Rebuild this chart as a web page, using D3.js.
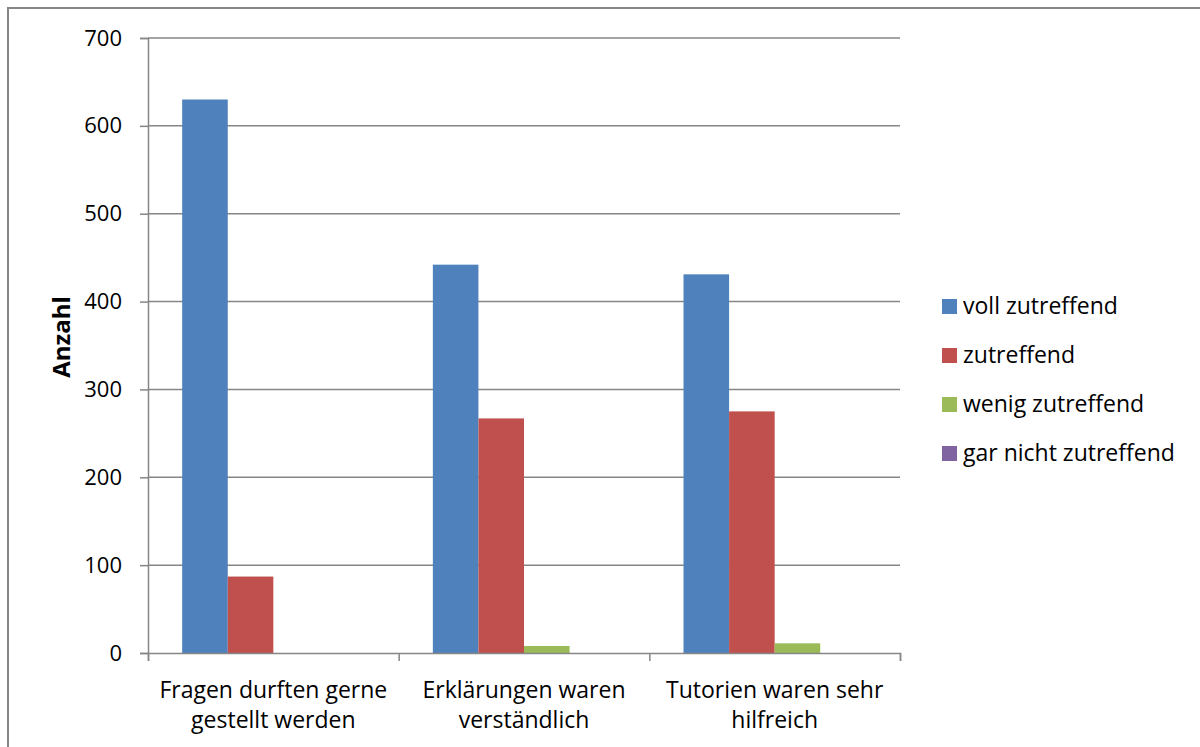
<!DOCTYPE html>
<html>
<head>
<meta charset="utf-8">
<script src="https://cdn.jsdelivr.net/npm/d3@7"></script>
<style>
  body { margin: 0; background: #fff; }
  svg text { font-family: "Open Sans", "Noto Sans", sans-serif; fill: #000; }
</style>
</head>
<body>
<div class="chart"></div>
<script>
// the data
const categories = [
  ['Fragen durften gerne', 'gestellt werden'],
  ['Erklärungen waren', 'verständlich'],
  ['Tutorien waren sehr', 'hilfreich']
];
const seriesNames = ['voll zutreffend', 'zutreffend', 'wenig zutreffend', 'gar nicht zutreffend'];
const seriesColors = ['#4f81bd', '#c0504d', '#9bbb59', '#8064a2'];
const vollZutreffend = [630, 442, 431];
const zutreffend = [87, 267, 275];
const wenigZutreffend = [0, 8, 11];
const garNichtZutreffend = [0, 0, 0];
const yTicks = [0, 100, 200, 300, 400, 500, 600, 700];

const values = [vollZutreffend, zutreffend, wenigZutreffend, garNichtZutreffend];

const width = 1200, height = 747;
const svg = d3.select('.chart').append('svg').attr('width', width).attr('height', height);

// outer frame
svg.append('rect')
  .attr('x', 8).attr('y', 8).attr('width', 1200).attr('height', 800)
  .attr('fill', 'none').attr('stroke', '#868686').attr('stroke-width', 2);

const plot = {left: 148, right: 900, top: 38, bottom: 653};

const x = d3.scaleBand().domain(d3.range(categories.length)).range([plot.left, plot.right]);
// excel gap width 150% -> 0.75 bar of space on each side of the 4 bars
const xInner = d3.scaleBand().domain(d3.range(seriesNames.length))
  .range([0, x.bandwidth()]).paddingOuter(0.75).paddingInner(0);
const y = d3.scaleLinear().domain([0, 700]).range([plot.bottom, plot.top]);

// gridlines
svg.append('g').selectAll('line').data(yTicks.slice(1)).join('line')
  .attr('x1', plot.left).attr('x2', plot.right)
  .attr('y1', d => y(d)).attr('y2', d => y(d))
  .attr('stroke', '#868686').attr('stroke-width', 1.5);

// bars
const groups = svg.append('g').selectAll('g').data(categories).join('g')
  .attr('transform', (d, i) => `translate(${x(i)},0)`);
groups.selectAll('rect')
  .data((d, i) => values.map((s, j) => ({s: j, v: s[i]})))
  .join('rect')
  .attr('x', d => xInner(d.s))
  .attr('width', xInner.bandwidth())
  .attr('y', d => y(d.v))
  .attr('height', d => y(0) - y(d.v))
  .attr('fill', d => seriesColors[d.s]);

// y axis
const yAxis = svg.append('g').attr('transform', `translate(${plot.left},0)`)
  .call(d3.axisLeft(y).tickValues(yTicks).tickSize(8).tickPadding(18));
yAxis.select('.domain').attr('stroke', '#868686').attr('stroke-width', 1.5);
yAxis.selectAll('.tick line').attr('stroke', '#868686').attr('stroke-width', 1.5);
yAxis.selectAll('.tick text').attr('font-size', 22).attr('font-family', '"Open Sans", sans-serif');

// x axis
const xAxis = svg.append('g').attr('transform', `translate(0,${plot.bottom})`)
  .call(d3.axisBottom(d3.scaleLinear().domain([0, 3]).range([plot.left, plot.right]))
    .tickValues([0, 1, 2, 3]).tickSize(8).tickFormat(''));
xAxis.select('.domain').attr('stroke', '#868686').attr('stroke-width', 1.5);
xAxis.selectAll('.tick line').attr('stroke', '#868686').attr('stroke-width', 1.5);

// category labels
const labels = svg.append('g').selectAll('text').data(categories).join('text')
  .attr('text-anchor', 'middle')
  .attr('font-size', 23)
  .attr('x', (d, i) => x(i) + x.bandwidth() / 2)
  .attr('y', 698);
labels.selectAll('tspan').data(d => d).join('tspan')
  .attr('x', function() { return d3.select(this.parentNode).attr('x'); })
  .attr('dy', (d, i) => i === 0 ? 0 : 30)
  .text(d => d);

// axis title
svg.append('text')
  .attr('transform', `translate(70,337) rotate(-90)`)
  .attr('text-anchor', 'middle')
  .attr('font-size', 24).attr('font-weight', 'bold')
  .text('Anzahl');

// legend
const legend = svg.append('g').selectAll('g').data(seriesNames).join('g')
  .attr('transform', (d, i) => `translate(942,${306 + i * 49})`);
legend.append('rect')
  .attr('x', 0).attr('y', -7).attr('width', 15).attr('height', 15)
  .attr('fill', (d, i) => seriesColors[i]);
legend.append('text')
  .attr('x', 21).attr('y', 8)
  .attr('font-size', 23)
  .text(d => d);
</script>
</body>
</html>
